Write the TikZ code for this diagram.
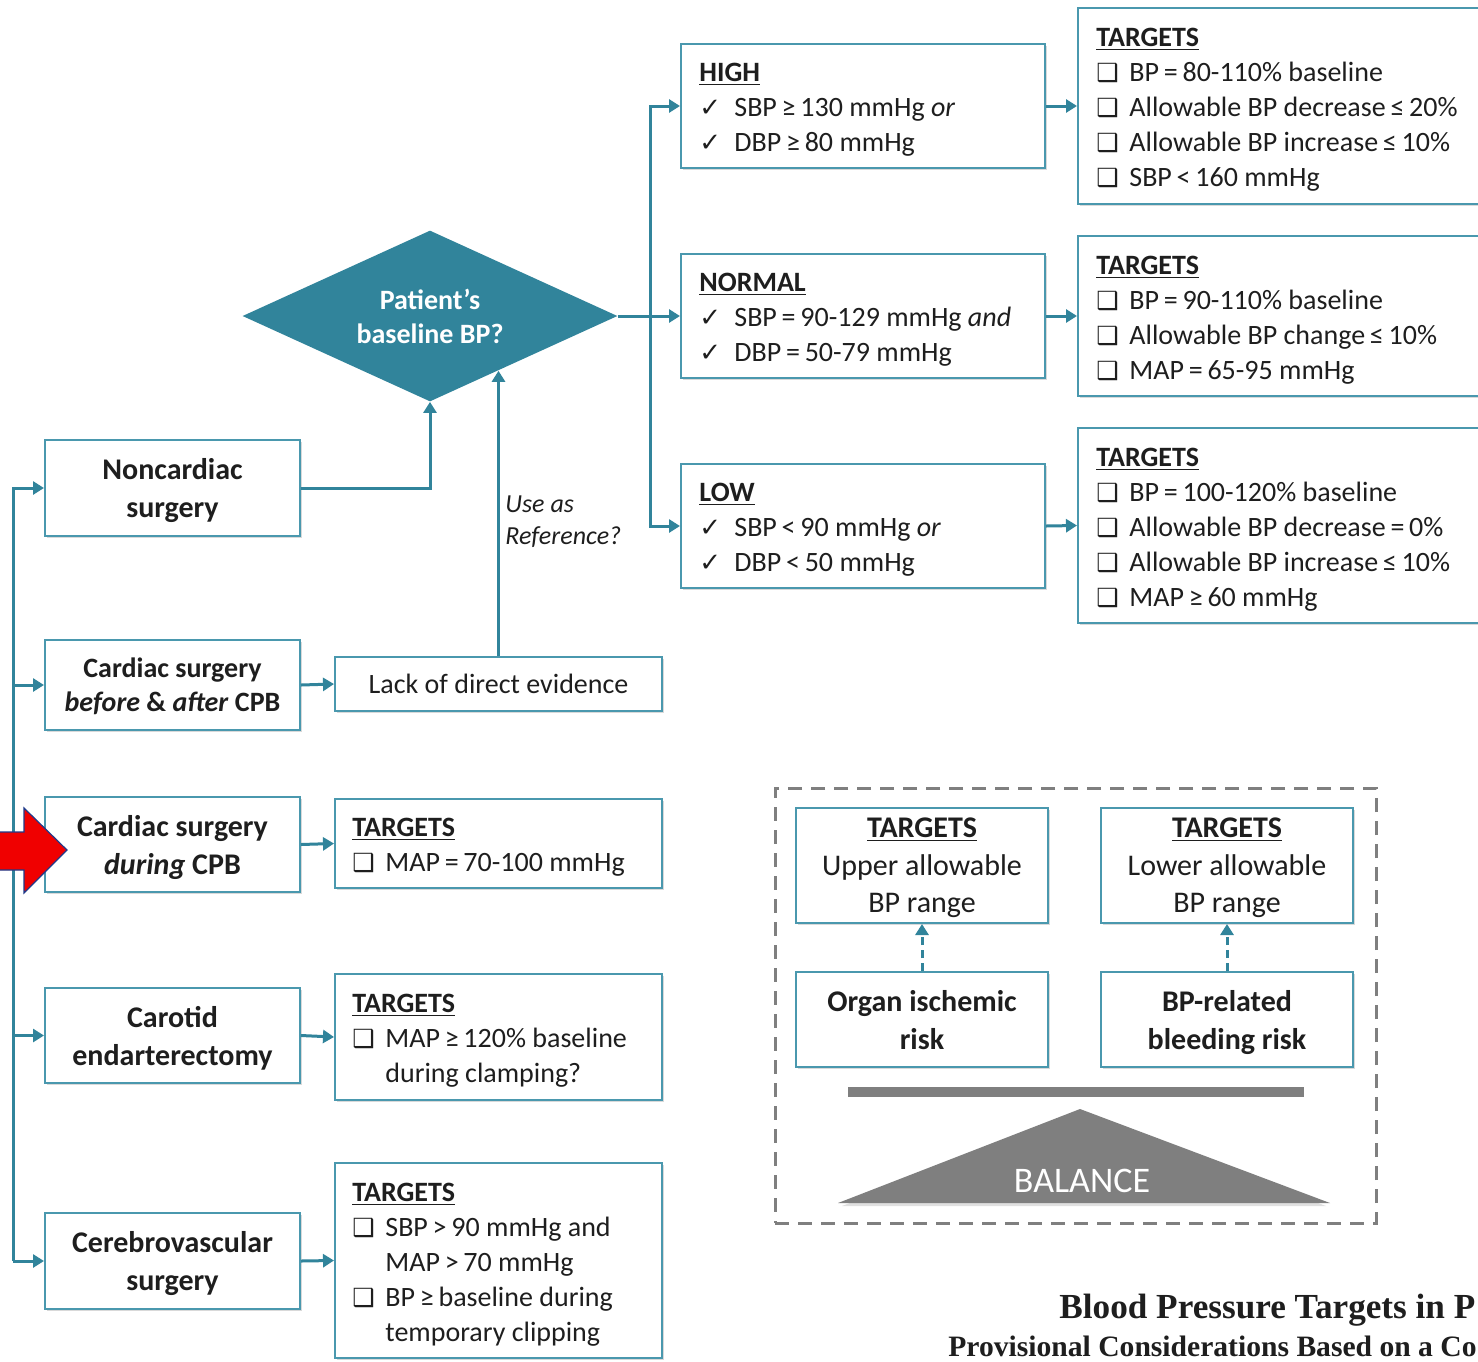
\documentclass[tikz,border=0pt]{standalone}
\usepackage{fontspec}
\setmainfont{Carlito}
\newfontfamily\symfont{DejaVu Sans}
\newfontfamily\titlefont{Liberation Serif}
\usetikzlibrary{arrows.meta,shapes.geometric,calc,shadows}

\definecolor{bpteal}{HTML}{31849B}
\definecolor{bpframe}{HTML}{4A98AE}
\definecolor{ink}{HTML}{1E1E1E}
\definecolor{balgray}{HTML}{7F7F7F}
\definecolor{alertred}{HTML}{F00000}
\definecolor{alertnavy}{HTML}{1F3A8A}

\newcommand\fs[2]{\fontsize{#1}{#2}\selectfont}
\newcommand\cbx{\makebox[16.5pt][l]{\symfont\fs{12.5}{12}\char"2751}}
\newcommand\chk{\makebox[17.5pt][l]{\symfont\fs{13}{13}\char"2713}}
\newcommand\hang{\hspace*{16.5pt}}
\newcommand\op[1]{\hspace{0.17em}#1\hspace{0.17em}}
\newcommand\head[1]{\underline{\textbf{#1}}}

\tikzset{
  box/.style={draw=bpframe, line width=1pt, fill=white, inner sep=0pt, text=ink,
    drop shadow={shadow xshift=0.8pt, shadow yshift=-0.8pt, opacity=0.15, fill=black}},
  frame/.style n args={2}{box, minimum width=#1, minimum height=#2},
  txt/.style={anchor=west, align=left, inner sep=0pt, text=ink, font=\fs{14}{17.5},
    yshift=-2pt},
  sbox/.style n args={2}{box, minimum width=#1, minimum height=#2, align=center,
    font=\bfseries\fs{15}{19}, text depth=0pt},
  cbox/.style n args={2}{box, minimum width=#1, minimum height=#2, align=center,
    font=\fs{15}{18.75}, text depth=0pt},
  link/.style={draw=bpteal, line width=1.5pt},
  arr/.style={link, -{Triangle[length=5.5pt, width=6.5pt]}},
  dasharr/.style={arr, dash pattern=on 4pt off 2.5pt},
  balframe/.style={draw=balgray, line width=1.5pt, dash pattern=on 7pt off 4.5pt,
    minimum width=300.5pt, minimum height=217.5pt, inner sep=0pt},
}

\begin{document}
\begin{tikzpicture}[x=0.5pt, y=-0.5pt]
\useasboundingbox (0,0) rectangle (1478,1361);
\clip (0,0) rectangle (1478,1361);
\fill[white] (0,0) rectangle (1478,1361);

% ---------- decision diamond ----------
\node[diamond, fill=bpteal, minimum width=187.5pt, minimum height=85.5pt,
      inner sep=0pt] (dia) at (430,316) {};
\node[text=white, font=\bfseries\fs{14}{17}, align=center] (diatext)
      at (dia.center) {Patient’s\\baseline BP?};

% ---------- baseline categories ----------
\node[frame={182pt}{62pt}] (high) at (863,106) {};
\node[txt] (hightext) at ([xshift=9.5pt]high.west)
  {\head{HIGH}\\
   \chk SBP\op{≥}130 mmHg \textit{or}\\
   \chk DBP\op{≥}80 mmHg};
\node[frame={182pt}{62pt}] (normal) at (863,316) {};
\node[txt] (normaltext) at ([xshift=9.5pt]normal.west)
  {\head{NORMAL}\\
   \chk SBP\op{=}90-129 mmHg \textit{and}\\
   \chk DBP\op{=}50-79 mmHg};
\node[frame={182pt}{62pt}] (low) at (863,526) {};
\node[txt] (lowtext) at ([xshift=9.5pt]low.west)
  {\head{LOW}\\
   \chk SBP\op{<}90 mmHg \textit{or}\\
   \chk DBP\op{<}50 mmHg};

% ---------- targets per category ----------
\node[frame={202pt}{98pt}] (thigh) at (1280,106) {};
\node[txt] (thightext) at ([xshift=9.5pt]thigh.west)
  {\head{TARGETS}\\
   \cbx BP\op{=}80-110\% baseline\\
   \cbx Allowable BP decrease\op{≤}20\%\\
   \cbx Allowable BP increase\op{≤}10\%\\
   \cbx SBP\op{<}160 mmHg};
\node[frame={202pt}{80pt}] (tnormal) at (1280,316) {};
\node[txt] (tnormaltext) at ([xshift=9.5pt]tnormal.west)
  {\head{TARGETS}\\
   \cbx BP\op{=}90-110\% baseline\\
   \cbx Allowable BP change\op{≤}10\%\\
   \cbx MAP\op{=}65-95 mmHg};
\node[frame={202pt}{97.5pt}] (tlow) at (1280,525.5) {};
\node[txt] (tlowtext) at ([xshift=9.5pt]tlow.west)
  {\head{TARGETS}\\
   \cbx BP\op{=}100-120\% baseline\\
   \cbx Allowable BP decrease\op{=}0\%\\
   \cbx Allowable BP increase\op{≤}10\%\\
   \cbx MAP\op{≥}60 mmHg};

% ---------- surgery types ----------
\node[sbox={127.5pt}{48pt}] (noncard) at (172.5,488) {Noncardiac\\surgery};
\node[sbox={127.5pt}{45pt}, font=\bfseries\fs{14}{17}] (cardbefore) at (172.5,685)
  {Cardiac surgery\\\textit{before} \& \textit{after} CPB};
\node[sbox={127.5pt}{47.5pt}] (cardduring) at (172.5,844.5)
  {Cardiac surgery\\\textit{during} CPB};
\node[sbox={127.5pt}{47.5pt}] (carotid) at (172.5,1035.5)
  {Carotid\\endarterectomy};
\node[sbox={127.5pt}{48pt}] (cerebro) at (172.5,1261)
  {Cerebrovascular\\surgery};

% ---------- surgery-specific outcomes ----------
\node[box, minimum width=163.5pt, minimum height=27pt, font=\fs{14}{17.5}] (lack)
  at (498.5,684) {Lack of direct evidence};
\node[frame={163.5pt}{44.5pt}] (tcpb) at (498.5,843.5) {};
\node[txt] (tcpbtext) at ([xshift=9pt]tcpb.west)
  {\head{TARGETS}\\
   \cbx MAP\op{=}70-100 mmHg};
\node[frame={163.5pt}{63pt}] (tcarotid) at (498.5,1037) {};
\node[txt] (tcarotidtext) at ([xshift=9pt]tcarotid.west)
  {\head{TARGETS}\\
   \cbx MAP\op{≥}120\% baseline\\
   \hang during clamping?};
\node[frame={163.5pt}{97.5pt}] (tcerebro) at (498.5,1260.5) {};
\node[txt] (tcerebrotext) at ([xshift=9pt]tcerebro.west)
  {\head{TARGETS}\\
   \cbx SBP\op{>}90 mmHg and\\
   \hang MAP\op{>}70 mmHg\\
   \cbx BP\op{≥}baseline during\\
   \hang temporary clipping};

\node[font=\itshape\fs{13}{16}, text=ink, align=left, anchor=west, inner sep=0pt]
  (useref) at (505,522) {Use as\\Reference?};

% ---------- connectors ----------
\coordinate (split) at (650,316);
\coordinate (trunk) at (13,488);
\coordinate (diaedge) at ($(dia.south)!0.362!(dia.east)$);

\draw[arr] (dia.east) -- (normal.west);
\draw[arr] (split) |- (high.west);
\draw[arr] (split) |- (low.west);
\draw[arr] (high.east) -- (thigh.west);
\draw[arr] (normal.east) -- (tnormal.west);
\draw[arr] (low.east) -- (tlow.west);

\draw[arr] (noncard.east) -| (dia.south);
\draw[arr] (lack.north) -- (lack.north |- diaedge);

\draw[arr] (trunk |- cerebro) -- (trunk |- noncard) -- (noncard.west);
\draw[arr] (trunk |- cardbefore) -- (cardbefore.west);
\draw[arr] (trunk |- cardduring) -- (cardduring.west);
\draw[arr] (trunk |- carotid) -- (carotid.west);
\draw[arr] (trunk |- cerebro) -- (cerebro.west);

\draw[arr] (cardbefore.east) -- (lack.west);
\draw[arr] (cardduring.east) -- (tcpb.west);
\draw[arr] (carotid.east) -- (tcarotid.west);
\draw[arr] (cerebro.east) -- (tcerebro.west);

% ---------- balance panel ----------
\node[balframe] (balframe) at (1075.5,1005.5) {};
\node[cbox={126pt}{57.5pt}] (upper) at (922,865.5)
  {\head{TARGETS}\\Upper allowable\\BP range};
\node[cbox={126pt}{57.5pt}] (lower) at (1227,865.5)
  {\head{TARGETS}\\Lower allowable\\BP range};
\node[sbox={126pt}{47.5pt}] (organ) at (922,1019.5) {Organ ischemic\\risk};
\node[sbox={126pt}{47.5pt}] (bleed) at (1227,1019.5) {BP-related\\bleeding risk};
\draw[dasharr] (organ.north) -- (upper.south);
\draw[dasharr] (bleed.north) -- (lower.south);

\draw[balgray, line width=5pt] (848,1092) -- (1304,1092);
\fill[black!12] (842,1206) -- (1080,1113) -- (1326,1206) -- cycle;
\fill[balgray] (838,1203) -- (1080,1109) -- (1330,1203) -- cycle;
\node[text=white, font=\fs{18}{20}] (balance) at (1082,1181) {BALANCE};

% ---------- caption ----------
\node[anchor=base west, inner sep=0pt, text=ink,
      font=\titlefont\bfseries\fs{17.6}{20}] (title1) at (1059,1318)
  {Blood Pressure Targets in P};
\node[anchor=base west, inner sep=0pt, text=ink,
      font=\titlefont\bfseries\fs{14.8}{18}] (title2) at (948,1356)
  {Provisional Considerations Based on a Co};

% ---------- highlight arrow ----------
\fill[alertred, draw=alertnavy, line width=0.6pt]
  (-5,832) -- (24,832) -- (24,808) -- (67,850) -- (24,893) -- (24,870)
  -- (-5,870) -- cycle;
\end{tikzpicture}
\end{document}
